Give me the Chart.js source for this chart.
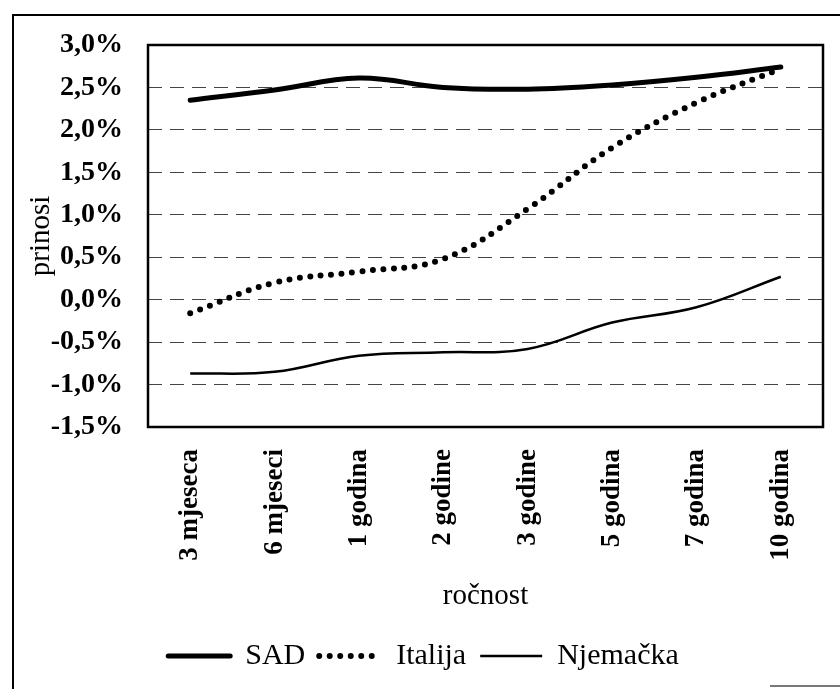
<!DOCTYPE html>
<html>
<head>
<meta charset="utf-8">
<script src="https://cdn.jsdelivr.net/npm/chart.js@4/dist/chart.umd.min.js"></script>
<style>
  body { margin: 0; background: #fff; }
  #wrap { position: relative; width: 840px; height: 689px; }
  #frame { position: absolute; left: 12px; top: 14px; width: 900px; height: 800px;
           border-left: 2px solid #000; border-top: 2px solid #000; }
  #corner { position: absolute; left: 770px; top: 685px; width: 70px; height: 2px; background: #777; }
  canvas { position: absolute; left: 0; top: 0; }
</style>
</head>
<body>
<div id="wrap">
  <div id="frame"></div>
  <div id="corner"></div>
  <canvas id="myChart" width="840" height="689"></canvas>
</div>
<script>
let labels = ['3 mjeseca', '6 mjeseci', '1 godina', '2 godine', '3 godine', '5 godina', '7 godina', '10 godina'];
let sad = [2.35, 2.47, 2.61, 2.50, 2.48, 2.53, 2.62, 2.74];
let italija = [-0.16, 0.20, 0.33, 0.48, 1.07, 1.79, 2.32, 2.72];
let njemacka = [-0.87, -0.85, -0.66, -0.62, -0.58, -0.27, -0.09, 0.27];

let serif = '"Liberation Serif", "Times New Roman", serif';

// frame around the plot area
let plotBorder = {
    id: 'plotBorder',
    afterDraw: (chart) => {
        let a = chart.chartArea;
        let c = chart.ctx;
        c.save();
        c.strokeStyle = '#000';
        c.lineWidth = 2.5;
        c.setLineDash([]);
        c.strokeRect(a.left, a.top, a.right - a.left, a.bottom - a.top);
        c.restore();
    }
};

let ctx = document.getElementById('myChart').getContext('2d');
let myChart = new Chart(ctx, {
    type: 'line',
    data: {
        labels: labels,
        datasets: [{
            label: 'SAD',
            data: sad,
            borderColor: '#000',
            borderWidth: 5,
            borderCapStyle: 'round',
            pointRadius: 0,
            tension: 0.4
        }, {
            label: 'Italija',
            data: italija,
            borderColor: '#000',
            borderWidth: 6,
            borderDash: [0, 10.5],
            borderCapStyle: 'round',
            pointRadius: 0,
            tension: 0.4
        }, {
            label: 'Njemačka',
            data: njemacka,
            borderColor: '#000',
            borderWidth: 2.5,
            pointRadius: 0,
            tension: 0.4
        }]
    },
    options: {
        responsive: false,
        animation: false,
        layout: { padding: { top: 45, right: 17, left: 24, bottom: 8 } },
        plugins: {
            tooltip: { enabled: false },
            legend: {
                position: 'bottom',
                labels: {
                    usePointStyle: true,
                    pointStyle: 'line',
                    pointStyleWidth: 62,
                    color: '#000',
                    padding: 14,
                    font: { family: serif, size: 30 },
                    generateLabels: (chart) => {
                        let items = Chart.defaults.plugins.legend.labels.generateLabels(chart);
                        items.forEach((item, i) => {
                            let ds = chart.data.datasets[i];
                            item.lineWidth = ds.borderWidth;
                            item.lineDash = ds.borderDash || [];
                            item.lineCap = ds.borderCapStyle || 'butt';
                            item.strokeStyle = ds.borderColor;
                            item.pointStyle = 'line';
                        });
                        return items;
                    }
                }
            }
        },
        scales: {
            x: {
                offset: true,
                grid: { display: false, drawTicks: false },
                border: { display: false },
                ticks: {
                    autoSkip: false,
                    minRotation: 90,
                    maxRotation: 90,
                    padding: 22,
                    color: '#000',
                    font: { family: serif, size: 27, weight: 'bold' }
                },
                title: {
                    display: true,
                    text: 'ročnost',
                    color: '#000',
                    padding: { top: 0, bottom: 13 },
                    font: { family: serif, size: 29 }
                },
                afterFit: (scale) => { scale.height = 200; }
            },
            y: {
                min: -1.5,
                max: 3.0,
                ticks: {
                    stepSize: 0.5,
                    padding: 25,
                    color: '#000',
                    font: { family: serif, size: 28, weight: 'bold' },
                    callback: (value) => value.toFixed(1).replace('.', ',') + '%'
                },
                grid: {
                    drawTicks: false,
                    color: '#444',
                    lineWidth: 1
                },
                border: { display: false, dash: [14, 8] },
                title: {
                    display: true,
                    text: 'prinosi',
                    color: '#000',
                    padding: 0,
                    font: { family: serif, size: 29 }
                },
                afterFit: (scale) => { scale.width = 124; }
            }
        }
    },
    plugins: [plotBorder]
});
</script>
</body>
</html>
